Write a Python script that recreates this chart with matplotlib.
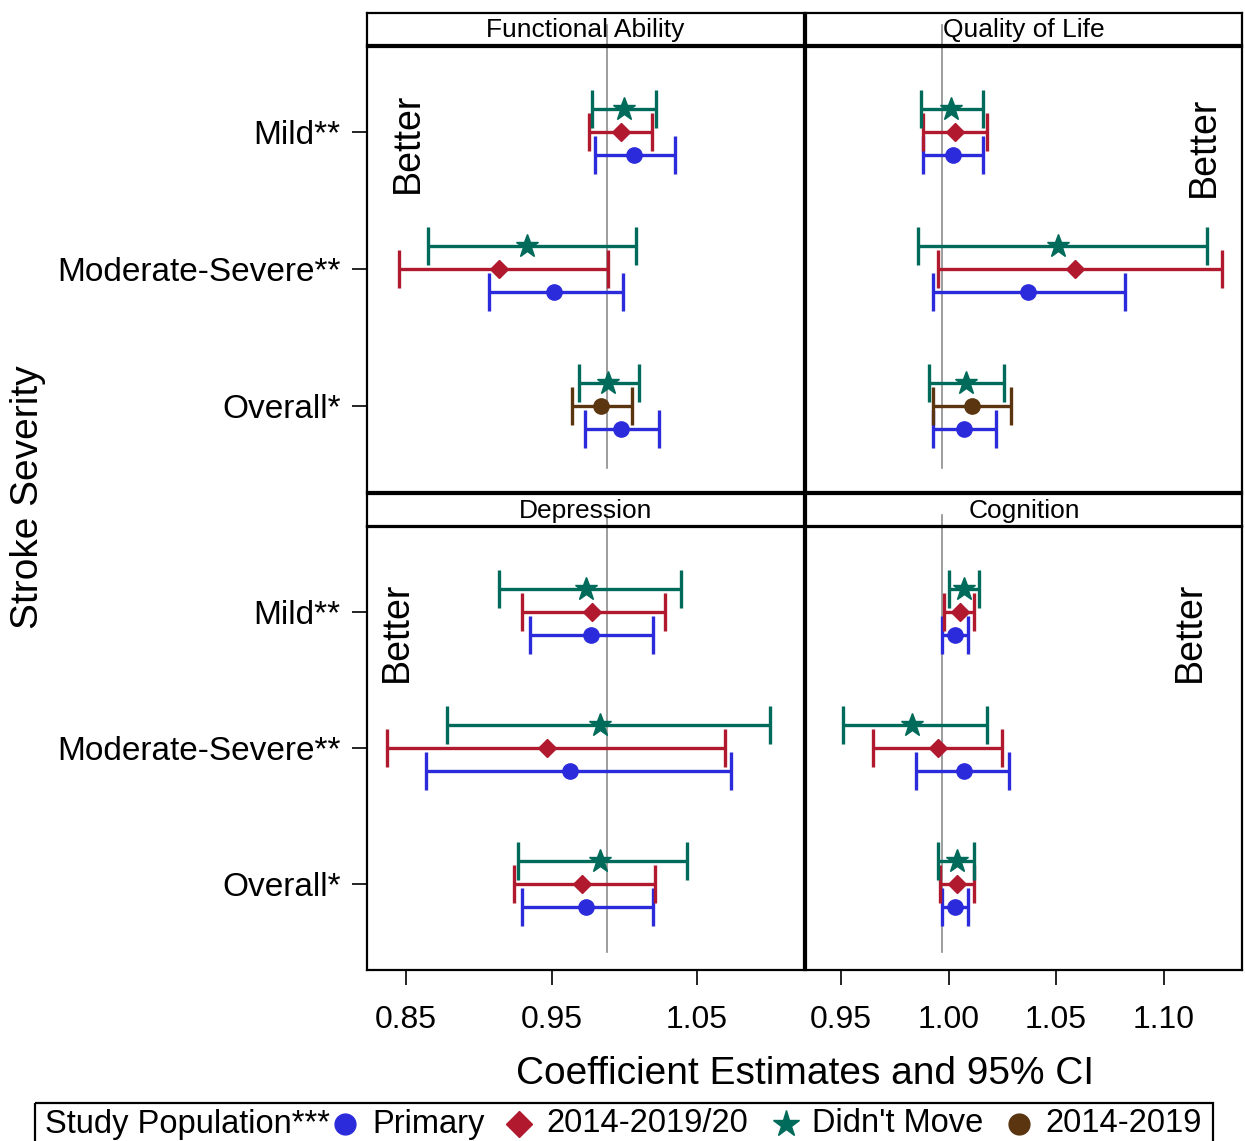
import matplotlib
matplotlib.use('Agg')
import matplotlib.pyplot as plt
from matplotlib.lines import Line2D
from matplotlib.patches import Rectangle

plt.rcParams['font.family'] = ['Liberation Sans', 'DejaVu Sans']

categories = ['Mild**', 'Moderate-Severe**', 'Overall*']
panel_titles = ['Functional Ability', 'Quality of Life', 'Depression', 'Cognition']
series_names = ['Primary', '2014-2019/20', "Didn't Move", '2014-2019']

# (estimate, lower, upper) for Mild, Moderate-Severe, Overall ; None = not shown
fa_primary = [(1.007, 0.980, 1.035), (0.952, 0.907, 0.999), (0.998, 0.973, 1.024)]
fa_1920 = [(0.998, 0.976, 1.019), (0.914, 0.845, 0.989), None]
fa_dm = [(1.000, 0.978, 1.022), (0.933, 0.865, 1.008), (0.989, 0.969, 1.010)]
fa_1419 = [None, None, (0.984, 0.964, 1.005)]

qol_primary = [(1.002, 0.988, 1.016), (1.037, 0.993, 1.082), (1.007, 0.993, 1.022)]
qol_1920 = [(1.003, 0.988, 1.018), (1.059, 0.995, 1.127), None]
qol_dm = [(1.001, 0.987, 1.016), (1.051, 0.986, 1.120), (1.008, 0.991, 1.026)]
qol_1419 = [None, None, (1.011, 0.993, 1.029)]

dep_primary = [(0.977, 0.935, 1.020), (0.963, 0.864, 1.073), (0.974, 0.930, 1.020)]
dep_1920 = [(0.978, 0.930, 1.028), (0.947, 0.837, 1.069), (0.971, 0.924, 1.021)]
dep_dm = [(0.974, 0.914, 1.039), (0.983, 0.878, 1.100), (0.983, 0.927, 1.043)]
dep_1419 = [None, None, None]

cog_primary = [(1.003, 0.997, 1.009), (1.007, 0.985, 1.028), (1.003, 0.997, 1.009)]
cog_1920 = [(1.0055, 0.998, 1.012), (0.995, 0.965, 1.025), (1.004, 0.996, 1.012)]
cog_dm = [(1.007, 1.000, 1.014), (0.983, 0.951, 1.018), (1.004, 0.995, 1.012)]
cog_1419 = [None, None, None]

left_ticks = [0.85, 0.95, 1.05]
right_ticks = [0.95, 1.00, 1.05, 1.10]
ref_left = 0.988
ref_right = 0.997

colors = ['#2b2bdc', '#b11a2e', '#006b5b', '#5a3510']
markers = ['o', 'D', '*', 'o']
msizes = [11, 9.5, 17, 11]
offsets = [-0.168, 0.0, 0.168, 0.0]

W, H = 1245, 1141
fig = plt.figure(figsize=(W / 100, H / 100), dpi=100)


def px_axes(x0, y0, x1, y1, **kw):
    # pixel box (top-left origin) -> figure axes
    return fig.add_axes([x0 / W, 1 - y1 / H, (x1 - x0) / W, (y1 - y0) / H], **kw)


cols = [(367, 804), (806, 1242)]
rows = [((13, 45), (47, 492)), ((494, 526), (527, 970))]
panel_data = [
    [fa_primary, fa_1920, fa_dm, fa_1419],
    [qol_primary, qol_1920, qol_dm, qol_1419],
    [dep_primary, dep_1920, dep_dm, dep_1419],
    [cog_primary, cog_1920, cog_dm, cog_1419],
]
better_pos = [(408, 143), (1204, 147), (397, 632), (1190, 632)]
cat_y = [2, 1, 0]

for i in range(4):
    r, c = divmod(i, 2)
    (hx0, hx1) = cols[c]
    (hy, py) = rows[r]
    ax = px_axes(hx0, py[0], hx1, py[1])
    hd = px_axes(hx0, hy[0], hx1, hy[1], facecolor='none')
    hd.set_xticks([])
    hd.set_yticks([])
    for s in hd.spines.values():
        s.set_linewidth(1.6)
    hd.text(0.5, 0.48, panel_titles[i], ha='center', va='center', fontsize=19,
            transform=hd.transAxes)

    if c == 0:
        ax.set_xlim(0.8232, 1.1235)
        ref = ref_left
        ticks = left_ticks
    else:
        ax.set_xlim(0.9337, 1.1365)
        ref = ref_right
        ticks = right_ticks
    ax.set_ylim(-0.63, 2.625)

    top_frac = 1.049 if r == 0 else 1.027
    bot_frac = 0.054 if r == 0 else 0.041
    ax.axvline(ref, ymin=bot_frac, ymax=top_frac, color='#8c8c8c', lw=1.2,
               clip_on=False, zorder=1)

    for k, series in enumerate(panel_data[i]):
        for j, v in enumerate(series):
            if v is None:
                continue
            est, lo, hi = v
            ax.errorbar(est, cat_y[j] + offsets[k], xerr=[[est - lo], [hi - est]],
                        fmt=markers[k], color=colors[k], ms=msizes[k],
                        elinewidth=2.4, capsize=13.5, capthick=2.4, zorder=3)

    bx, by = better_pos[i]
    fig.text(bx / W, 1 - by / H, 'Better', rotation=90, ha='center', va='center',
             fontsize=27)

    for s in ax.spines.values():
        s.set_linewidth(1.6)

    if c == 0:
        ax.set_yticks(cat_y)
        ax.set_yticklabels(categories)
        ax.tick_params(axis='y', length=11, width=1.2, labelsize=24, pad=8)
    else:
        ax.set_yticks([])
    if r == 1:
        ax.set_xticks(ticks)
        ax.set_xticklabels(['{:.2f}'.format(t) for t in ticks])
        ax.tick_params(axis='x', length=11, width=1.2, labelsize=23, pad=14)
    else:
        ax.set_xticks([])

fig.text(28 / W, 1 - 497 / H, 'Stroke Severity', rotation=90, ha='center',
         va='center', fontsize=28)
fig.text(805 / W, 1 - 1074 / H, 'Coefficient Estimates and 95% CI', ha='center',
         va='center', fontsize=28)

# legend drawn in pixel space
lg = fig.add_axes([0, 0, 1, 1], facecolor='none')
lg.set_xlim(0, W)
lg.set_ylim(H, 0)
lg.axis('off')
lg.add_patch(Rectangle((35, 1103), 1178, 45, fill=False, lw=1.6, ec='black',
                       clip_on=False))
leg_y = 1124
lg.text(45, leg_y, 'Study Population***', ha='left', va='center', fontsize=23.5)
leg_marker_x = [345, 519, 786, 1019]
leg_text_x = [372, 546, 812, 1045]
leg_ms = [15, 13, 20, 15]
for k in range(4):
    lg.add_line(Line2D([leg_marker_x[k]], [leg_y], marker=markers[k], color=colors[k],
                       ms=leg_ms[k], ls='none'))
    lg.text(leg_text_x[k], leg_y, series_names[k], ha='left', va='center', fontsize=23.5)

fig.savefig('out.png', dpi=100)
